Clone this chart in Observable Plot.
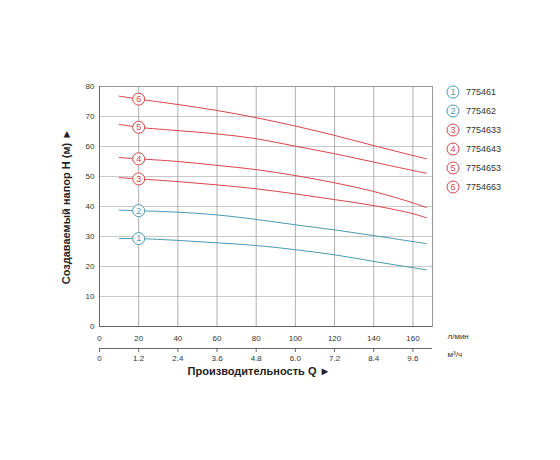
<!DOCTYPE html>
<html>
<head>
<meta charset="utf-8">
<script src="https://cdn.jsdelivr.net/npm/d3@7"></script>
<script src="https://cdn.jsdelivr.net/npm/@observablehq/plot@0.6"></script>
<style>
  body { margin: 0; background: #fff; font-family: "Liberation Sans", Arial, sans-serif; }
  #wrap { position: relative; width: 560px; height: 460px; }
  #legend { position: absolute; left: 446px; top: 82px; font-size: 9px; color: #333; }
  .row { display: flex; align-items: center; height: 19px; }
  .row svg { margin-right: 6px; overflow: visible; }
</style>
</head>
<body>
<div id="wrap"><div id="legend"></div></div>
<script>
(() => {
const Q = [10, 20, 40, 60, 80, 100, 120, 140, 160, 167]; // л/мин
const MODELS = ["775461", "775462", "7754633", "7754643", "7754653", "7754663"];
const H1 = [29.3, 29.3, 28.7, 27.9, 27.0, 25.6, 23.9, 21.7, 19.6, 18.9];
const H2 = [38.8, 38.6, 38.1, 37.2, 35.7, 33.9, 32.2, 30.3, 28.3, 27.6];
const H3 = [49.6, 49.2, 48.3, 47.2, 45.9, 44.2, 42.3, 40.3, 37.6, 36.2];
const H4 = [56.3, 55.9, 55.0, 53.7, 52.3, 50.3, 47.9, 45.0, 41.2, 39.6];
const H5 = [67.4, 66.4, 65.3, 64.2, 62.6, 60.1, 57.6, 54.8, 52.0, 51.1];
const H6 = [76.8, 75.8, 74.0, 72.0, 69.6, 66.8, 63.7, 60.3, 57.0, 55.9];
const X_TICKS = [0, 20, 40, 60, 80, 100, 120, 140, 160];
const Y_TICKS = [0, 10, 20, 30, 40, 50, 60, 70, 80];
const M3H_LABELS = ["0", "1.2", "2.4", "3.6", "4.8", "6.0", "7.2", "8.4", "9.6"];
const MARK_Q = 20;

const BLUE = "#4a9ab4";
const RED = "#d9444c";
const COLORS = [BLUE, BLUE, RED, RED, RED, RED];

const SERIES = [H1, H2, H3, H4, H5, H6];
const rows = SERIES.flatMap((hs, i) =>
  Q.map((q, j) => ({ model: MODELS[i], n: i + 1, q, h: hs[j] }))
);
const marks = rows.filter(d => d.q === MARK_Q);

const chart = Plot.plot({
  width: 560,
  height: 460,
  marginLeft: 99,
  marginRight: 128,
  marginTop: 86,
  marginBottom: 134,
  style: { fontFamily: "Liberation Sans, Arial, sans-serif", background: "#fff" },
  x: { domain: [0, 170], axis: null },
  y: { domain: [0, 80], axis: null },
  color: { domain: MODELS, range: COLORS },
  marks: [
    Plot.gridY(Y_TICKS.slice(1, -1), { stroke: "#c9c9c9", strokeOpacity: 1, strokeWidth: 1.2 }),
    Plot.gridX(X_TICKS.slice(1), { stroke: "#9a9a9a", strokeOpacity: 1, strokeWidth: 0.8 }),
    Plot.frame({ stroke: "#999" }),
    Plot.ruleX([0], { stroke: "#666" }),
    Plot.ruleY([0], { stroke: "#666" }),
    Plot.line(rows, { x: "q", y: "h", z: "model", stroke: "model", curve: "catmull-rom", strokeWidth: 1 }),
    Plot.dot(marks, { x: "q", y: "h", r: 6, fill: "white", stroke: "model", strokeWidth: 1 }),
    Plot.text(marks, { x: "q", y: "h", text: "n", fill: "model", fontSize: 9 }),
    Plot.axisY({ ticks: Y_TICKS, tickSize: 0, tickPadding: 5, fontSize: 8, fill: "#333", label: null }),
    Plot.axisX({ ticks: X_TICKS, tickSize: 0, tickPadding: 9, fontSize: 8, fill: "#333", label: null }),
    // second scale in м³/ч
    Plot.ruleY([0], { dy: 22, stroke: "#666" }),
    Plot.axisX({
      ticks: X_TICKS,
      tickFormat: (d) => M3H_LABELS[X_TICKS.indexOf(d)],
      dy: 22, tickSize: 4, tickPadding: 3, fontSize: 8, fill: "#333", stroke: "#666", label: null
    }),
    Plot.text(["л/мин"], { frameAnchor: "bottom-right", dx: 15, dy: 12, textAnchor: "start", fontSize: 8, fill: "#333" }),
    Plot.text(["м³/ч"], { frameAnchor: "bottom-right", dx: 15, dy: 30, textAnchor: "start", fontSize: 8, fill: "#333" }),
    Plot.text(["Производительность Q ►"], { frameAnchor: "bottom", dx: -7, dy: 48, textAnchor: "middle", fontSize: 11, fontWeight: "bold", fill: "#222" }),
    Plot.text(["Создаваемый напор H (м) ►"], { frameAnchor: "left", dx: -33, rotate: -90, textAnchor: "middle", fontSize: 11, fontWeight: "bold", fill: "#222" }),
  ],
});

const wrap = document.getElementById("wrap");
wrap.insertBefore(chart, wrap.firstChild);

const legend = document.getElementById("legend");
MODELS.forEach((m, i) => {
  const row = document.createElement("div");
  row.className = "row";
  row.innerHTML =
    `<svg width="14" height="14" viewBox="-7 -7 14 14">` +
    `<circle r="6" fill="white" stroke="${COLORS[i]}" stroke-width="1"></circle>` +
    `<text text-anchor="middle" dy="0.35em" font-size="9" fill="${COLORS[i]}">${i + 1}</text></svg>` +
    `<span>${m}</span>`;
  legend.appendChild(row);
});
})();
</script>
</body>
</html>
